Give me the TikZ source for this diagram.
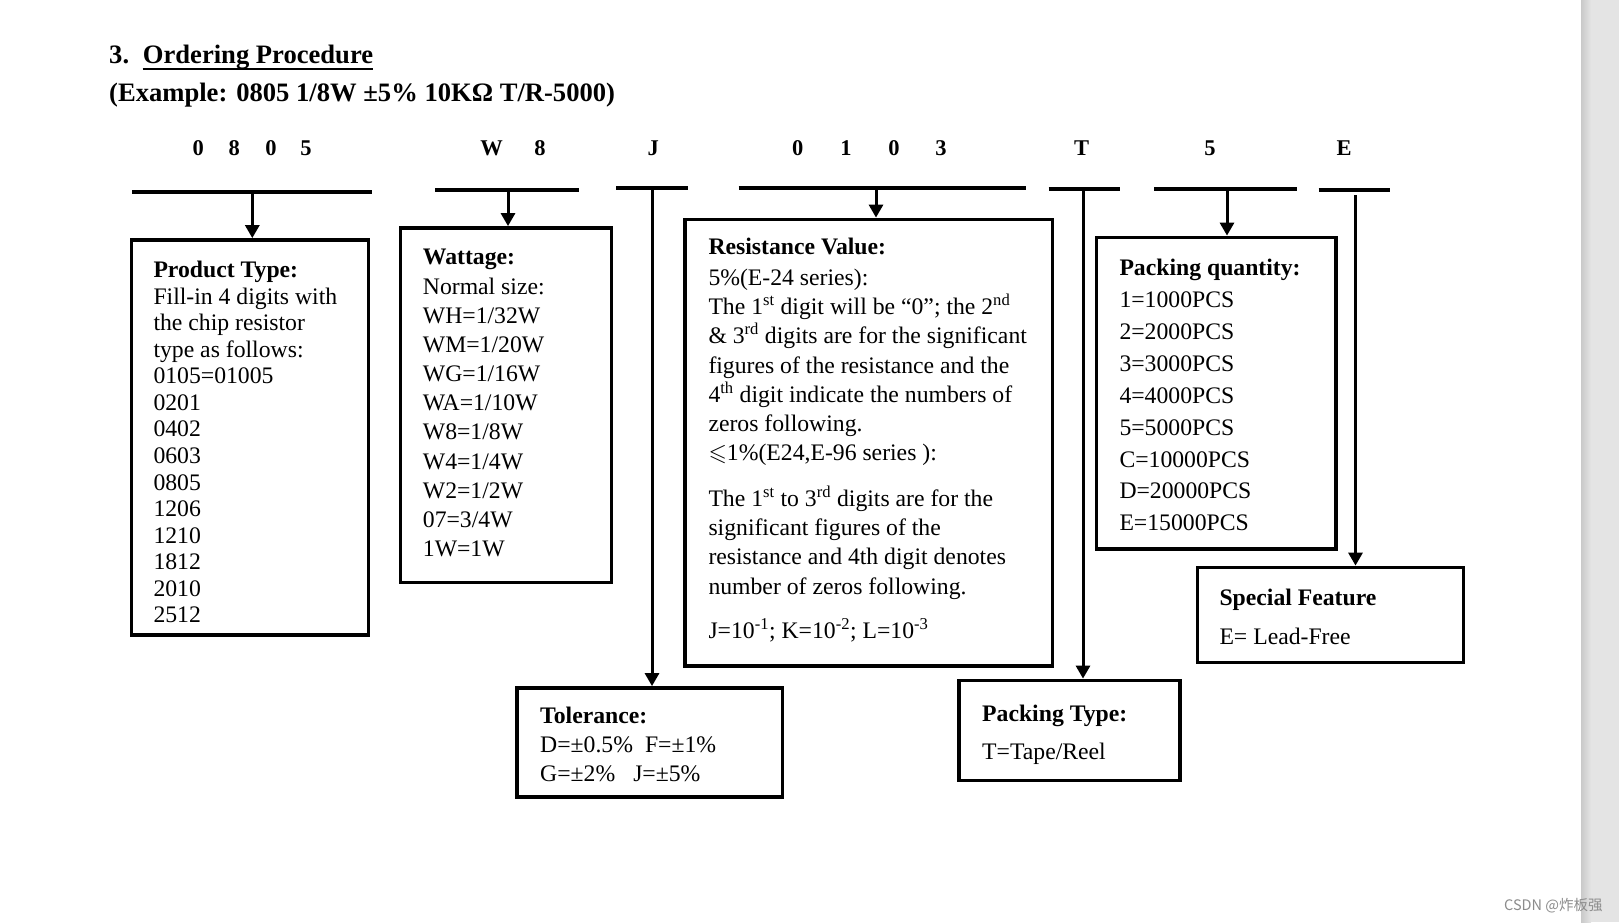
\documentclass[tikz,border=0pt]{standalone}
\usepackage{amssymb}
\usepackage{fontspec}
\setmainfont{Liberation Serif}
\newfontfamily\cjk{Noto Sans CJK SC}
\usetikzlibrary{arrows.meta,calc}
\definecolor{stripc}{HTML}{E4E4E4}
\definecolor{stripedge}{HTML}{C9C9C9}
\definecolor{wmc}{HTML}{8C8C8C}
\begin{document}
\begin{tikzpicture}[x=1pt,y=-1pt,
  bar/.style={line width=4pt},
  stem/.style={line width=3pt,-{Triangle[width=14pt,length=13pt]},shorten >=1.9pt},
  box/.style={draw,line width=3.8pt,inner sep=0pt,outer sep=0pt,anchor=north west},
  txt/.style={anchor=base west,inner sep=0pt,yshift=-1.5pt,font=\fontsize{23.7}{28}\selectfont},
  hd/.style={anchor=base west,inner sep=0pt,yshift=-1.5pt,font=\fontsize{23.7}{28}\selectfont\bfseries},
  ttlf/.style={anchor=base west,inner sep=0pt,font=\fontsize{26.6}{30}\selectfont\bfseries},
  dig/.style={anchor=base,inner sep=0pt,font=\fontsize{22.5}{26}\selectfont\bfseries},
]
\path[use as bounding box] (0,0) rectangle (1619,922);
\fill[white] (0,0) rectangle (1619,922);
% right gray strip
\fill[stripc] (1581,0) rectangle (1619,922);
\shade[left color=stripedge,right color=stripc] (1581,0) rectangle (1591,922);

% title
\node[ttlf] (tnum) at (109,63.3) {3.};
\node[ttlf] (ttl) at (142.7,63.3) {Ordering Procedure};
\draw[line width=2pt] ($(ttl.base west)+(0,6)$) -- ($(ttl.base east)+(0,6)$);
\node[ttlf] (ex) at (109,101.7) {(Example: 0805 1/8W ±5\% 10KΩ T/R-5000)};

% header code letters
\foreach \x/\c [count=\i] in {198.3/0,234.3/8,271/0,306/5,491.7/W,540/8,653.3/J,797.7/0,846/1,894/0,941/3,1081.7/T,1210/5,1344/E}
  \node[dig] (h\i) at (\x,155) {\c};

% bars
\foreach \n/\xa/\xb/\y in {b1/132/372/191.5,b2/435/578.5/190,bJ/616/688/188,bR/738.5/1026/188,bT/1048.5/1119.5/188.5,bQ/1154/1297/188.5,bE/1318.5/1389.5/189.5}{
  \coordinate (\n a) at (\xa,\y);
  \coordinate (\n b) at (\xb,\y);
  \draw[bar] (\n a) -- (\n b);
}

% boxes
\node[box,minimum width=237pt,minimum height=395pt] (pt) at (131.5,240) {};
\node[box,minimum width=211pt,minimum height=354.5pt] (wt) at (400.5,228) {};
\node[box,minimum width=367.5pt,minimum height=446.5pt] (rv) at (685,219.5) {};
\node[box,minimum width=265.5pt,minimum height=109pt] (tol) at (517,688) {};
\node[box,minimum width=221pt,minimum height=100pt] (ptype) at (959,680.5) {};
\node[box,minimum width=239.5pt,minimum height=311.5pt] (pq) at (1096.5,237.5) {};
\node[box,minimum width=266pt,minimum height=95pt] (sf) at (1197.5,567.5) {};

% stems
\coordinate (s1) at (252.3,191.5);
\coordinate (s2) at (508,190);
\coordinate (sJ) at (652,188);
\coordinate (sR) at (876,188);
\coordinate (sT) at (1083,188.5);
\coordinate (sQ) at (1227,188.5);
\coordinate (sE) at (1355.5,195);
\draw[stem] (s1) -- (s1 |- pt.north);
\draw[stem] (s2) -- (s2 |- wt.north);
\draw[stem] (sJ) -- (sJ |- tol.north);
\draw[stem] (sR) -- (sR |- rv.north);
\draw[stem] (sT) -- (sT |- ptype.north);
\draw[stem] (sQ) -- (sQ |- pq.north);
\draw[stem] (sE) -- (sE |- sf.north);

% Product Type
\node[hd] (ptH) at (153.3,275.7) {Product Type:};
\foreach \t [count=\i from 0] in {{Fill-in 4 digits with},{the chip resistor},{type as follows:},{0105=01005},{0201},{0402},{0603},{0805},{1206},{1210},{1812},{2010},{2512}}
  \node[txt] (ptL\i) at (153.3,{302.7+\i*26.55}) {\t};

% Wattage
\node[hd] (wtH) at (422.7,263.3) {Wattage:};
\foreach \t [count=\i from 0] in {{Normal size:},{WH=1/32W},{WM=1/20W},{WG=1/16W},{WA=1/10W},{W8=1/8W},{W4=1/4W},{W2=1/2W},{07=3/4W},{1W=1W}}
  \node[txt] (wtL\i) at (422.7,{292.7+\i*29.14}) {\t};

% Resistance Value
\node[hd] (rvH) at (708.3,253.3) {Resistance Value:};
\node[txt] (rv1) at (708.3,284) {5\%(E-24 series):};
\node[txt] (rv2) at (708.3,312.7) {The 1\textsuperscript{st} digit will be “0”; the 2\textsuperscript{nd}};
\node[txt] (rv3) at (708.3,342.3) {\& 3\textsuperscript{rd} digits are for the significant};
\node[txt] (rv4) at (708.3,371.7) {figures of the resistance and the};
\node[txt] (rv5) at (708.3,400.7) {4\textsuperscript{th} digit indicate the numbers of};
\node[txt] (rv6) at (708.3,430) {zeros following.};
\node[txt] (rv7) at (708.3,459.3) {$\leqslant$1\%(E24,E-96 series ):};
\node[txt] (rv8) at (708.3,505) {The 1\textsuperscript{st} to 3\textsuperscript{rd} digits are for the};
\node[txt] (rv9) at (708.3,534) {significant figures of the};
\node[txt] (rv10) at (708.3,563.3) {resistance and 4th digit denotes};
\node[txt] (rv11) at (708.3,592.7) {number of zeros following.};
\node[txt] (rv12) at (708.3,637.3) {J=10\textsuperscript{-1}; K=10\textsuperscript{-2}; L=10\textsuperscript{-3}};

% Packing quantity
\node[hd] (pqH) at (1119.3,274) {Packing quantity:};
\foreach \t [count=\i from 0] in {{1=1000PCS},{2=2000PCS},{3=3000PCS},{4=4000PCS},{5=5000PCS},{C=10000PCS},{D=20000PCS},{E=15000PCS}}
  \node[txt] (pqL\i) at (1119.3,{306+\i*31.9}) {\t};

% Special Feature
\node[hd] (sfH) at (1219.3,604) {Special Feature};
\node[txt] (sf1) at (1219.3,642.7) {E= Lead-Free};

% Tolerance
\node[hd] (tolH) at (540,721.7) {Tolerance:};
\node[txt] (tol1) at (540,751) {D=±0.5\%\hspace{12pt}F=±1\%};
\node[txt] (tol2) at (540,780) {G=±2\%\hspace{18pt}J=±5\%};

% Packing Type
\node[hd] (ptyH) at (982,719.6) {Packing Type:};
\node[txt] (pty1) at (982,758) {T=Tape/Reel};

% watermark
\node[anchor=base west,inner sep=0pt,text=wmc,font=\cjk\fontsize{14.5}{17}\selectfont] (wm) at (1504,910) {CSDN @炸板强};
\end{tikzpicture}
\end{document}
